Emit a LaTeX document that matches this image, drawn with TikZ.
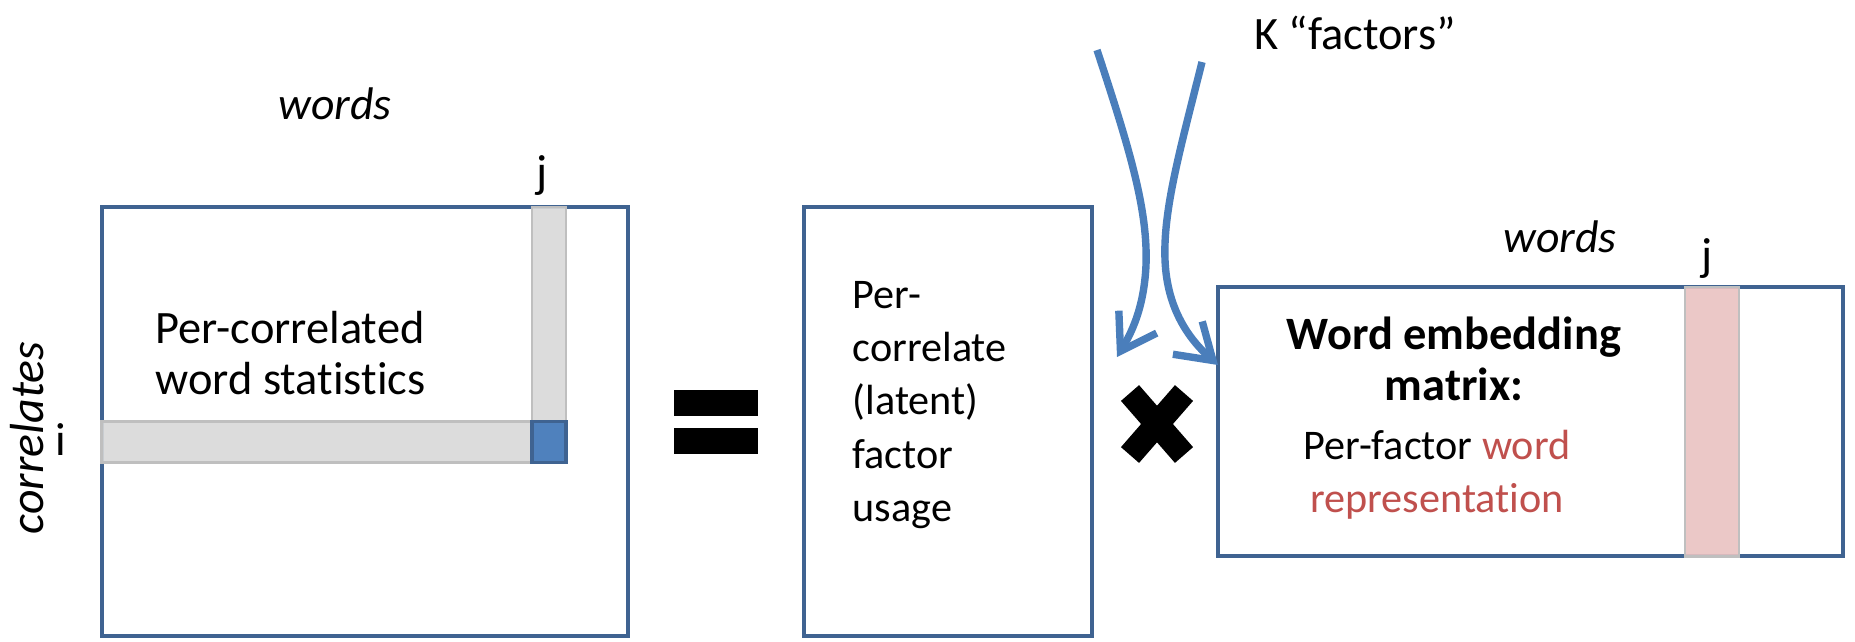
\documentclass[tikz,border=0pt]{standalone}
\usepackage{fontspec}
\setmainfont{Carlito}[Ligatures={NoCommon}]
\usetikzlibrary{arrows.meta}
\definecolor{boxblue}{HTML}{3F6391}
\definecolor{flowblue}{HTML}{4A7EBB}
\definecolor{cellblue}{HTML}{4F81BD}
\definecolor{wordred}{HTML}{C0504D}
\definecolor{bandpink}{HTML}{E9C3C2}
\tikzset{
  mat/.style={draw=boxblue,line width=1.1pt,fill=white},
  band/.style={draw=black!25,line width=0.8pt,fill=black!15,fill opacity=0.9},
  flow/.style={draw=flowblue,line width=2.1pt,-{Straight Barb[length=0.34cm,width=0.44cm]}},
  lbl/.style={font=\fontsize{12}{15.2}\selectfont,inner sep=0pt},
  biglbl/.style={font=\fontsize{13.2}{14.7}\selectfont,inner sep=0pt}
}
\begin{document}
\begin{tikzpicture}[x=0.01cm,y=-0.01cm]
      \useasboundingbox (0,0) rectangle (1855,641);
      % matrices
      \node[mat,minimum width=5.26cm,minimum height=4.29cm] (stats) at (365,421.5) {};
      \node[mat,minimum width=2.88cm,minimum height=4.29cm] (usage) at (948,421.5) {};
      \node[mat,minimum width=6.25cm,minimum height=2.69cm] (embed) at (1530.5,421.5) {};
      % highlighted row, column and cell
      \node[band,minimum width=0.34cm,minimum height=2.15cm] (colj) at (549,314.5) {};
      \node[band,minimum width=4.30cm,minimum height=0.41cm] (rowi) at (317,442) {};
      \node[draw=boxblue,fill=cellblue,line width=1.1pt,minimum width=0.34cm,minimum height=0.41cm] (cell) at (549,442) {};
      \node[band,fill=bandpink,minimum width=0.54cm,minimum height=2.69cm] (vecj) at (1712,421.5) {};
      % labels
      \node[biglbl,font=\fontsize{13}{14.7}\selectfont\itshape] (wordsL) at (335,104) {words};
      \node[biglbl] (jL) at (542,175) {j};
      \node[biglbl,font=\fontsize{13.6}{14.7}\selectfont\itshape,rotate=90] (corr) at (27,438) {correlates};
      \node[biglbl] (iL) at (61,440) {i};
      \node[biglbl,anchor=west,align=left] (stattext) at (155,353) {Per-correlated\\word statistics};
      \node[lbl,anchor=west,align=left] (usagetext) at (852,405) {Per-\\correlate\\(latent)\\factor\\usage};
      \node[biglbl,font=\fontsize{13.2}{14.7}\selectfont\bfseries,align=center] (embedhead) at (1454,359) {Word embedding\\matrix:};
      \node[lbl,align=center] (embedbody) at (1437,475) {Per-factor \textcolor{wordred}{word}\\\textcolor{wordred}{representation}};
      \node[biglbl,font=\fontsize{13}{14.7}\selectfont\itshape] (wordsR) at (1560,237) {words};
      \node[biglbl] (jR) at (1707,258) {j};
      \node[biglbl] (kfac) at (1355,33) {K “factors”};
      % equals and times
      \fill (674,390) rectangle (758,416);
      \fill (674,428) rectangle (758,454);
      \draw[line width=0.24cm] (1130,393) -- (1184,455);
      \draw[line width=0.24cm] (1184,393) -- (1130,455);
      % factor arrows
      \coordinate (k1) at (1097,50);
      \coordinate (k2) at (1202,62);
      \coordinate (tip1) at (1117,357);
      \coordinate (tip2) at (1218,365);
      \begin{scope}
        \draw[flow] (k1) .. controls (1130,150) and (1148,210) .. (1146,265) .. controls (1144,310) and (1130,335) .. (tip1);
        \draw[flow] (k2) .. controls (1180,150) and (1163,210) .. (1165,260) .. controls (1167,310) and (1190,340) .. (tip2);
      \end{scope}
    \end{tikzpicture}
\end{document}
